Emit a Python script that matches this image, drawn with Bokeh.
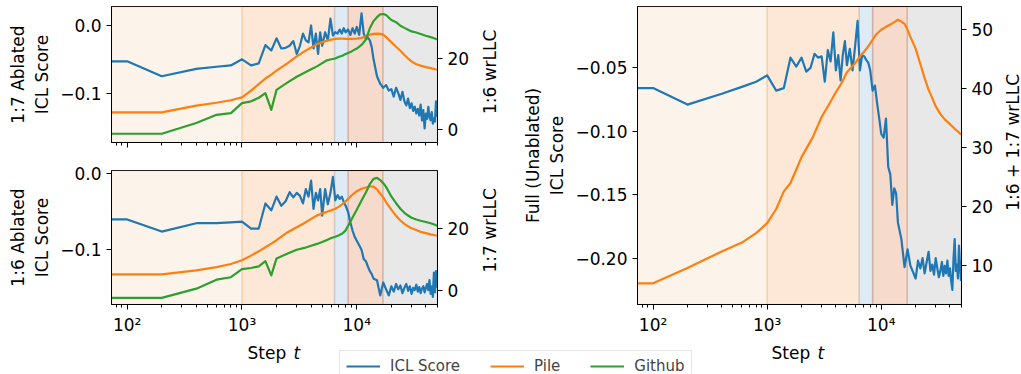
from bokeh.plotting import figure
from bokeh.models import (Range1d, LinearAxis, FixedTicker, CustomJSTickFormatter,
                          BoxAnnotation, Legend, LegendItem)
from bokeh.layouts import column, row
from bokeh.embed import file_html
from bokeh.resources import INLINE
from bokeh.core.properties import value

# ---------------- data ----------------
steps_icl = [70, 100, 200, 400, 600, 800,
             1000, 1200, 1400, 1600, 1800, 2000, 2200, 2400, 2600, 2800, 3000, 3200, 3400,
             3600, 3800, 4000, 4200, 4400, 4600, 4800, 5000,
             5300, 5600, 5900, 6200, 6500, 6800, 7100, 7400, 7700, 8000,
             8400, 8800, 9200, 9600, 10000,
             10500, 11000, 11500, 12000, 12500, 13000, 13500, 14000,
             15000, 16000, 17000, 18000, 19000, 20000, 21000, 22000, 23000, 24000,
             25000, 26000, 27000, 28000, 29000, 30000, 31000, 32000, 33000, 34000,
             35000, 36000, 37000, 38000, 39000, 40000, 41000, 42000, 43000, 44000,
             45000, 46000, 47000, 48000, 49000, 50000]

steps_llc = [70, 100, 200, 400, 600, 800, 1000, 1200, 1400, 1600, 1800, 2000,
             2500, 3000, 3500, 4000, 4500, 5000, 5500, 6000, 6500, 7000, 7500, 8000,
             9000, 10000, 11000, 12000, 13000, 14000, 15000, 16000, 17000, 18000,
             20000, 22000, 24000, 26000, 28000, 30000, 33000, 36000, 40000, 44000,
             48000, 50000]

# top-left: 1:7 ablated ICL score, 1:6 wrLLC
icl_17 = [-0.053, -0.053, -0.075, -0.064, -0.061, -0.059,
          -0.050, -0.059, -0.056, -0.029, -0.037, -0.019, -0.034, -0.033, -0.030, -0.023,
          -0.042, -0.030, -0.012, -0.022, -0.025, 0.000, -0.034, -0.012, -0.042, -0.010, -0.030,
          -0.010, -0.022, 0.010, -0.015, -0.010, -0.012, -0.006, -0.012, -0.004, -0.010,
          -0.006, -0.014, -0.004, -0.012, -0.002,
          -0.014, 0.018, -0.012, -0.020, -0.018, -0.022, -0.032, -0.050,
          -0.075, -0.086, -0.092, -0.088, -0.096, -0.094, -0.105, -0.092, -0.100, -0.110,
          -0.098, -0.112, -0.118, -0.108, -0.122, -0.115, -0.126, -0.120, -0.130, -0.123,
          -0.133, -0.117, -0.140, -0.125, -0.152, -0.130, -0.138, -0.120, -0.135, -0.140,
          -0.128, -0.145, -0.137, -0.142, -0.112, -0.135]
pile_16 = [4.9, 4.9, 4.9, 6.8, 7.6, 8.3, 9.1, 11.0, 12.8, 14.4, 15.5, 16.6,
           18.7, 20.6, 22.0, 23.1, 24.0, 24.6, 25.0, 25.3, 25.5, 25.6, 25.6, 25.5,
           25.5, 25.6, 25.8, 26.2, 26.7, 26.9, 27.0, 26.9, 26.7, 26.0,
           24.6, 23.3, 22.2, 21.0, 20.0, 19.2, 18.4, 18.0, 17.6, 17.3, 17.0, 16.9]
github_16 = [-1.1, -1.1, -1.1, 1.9, 4.2, 4.7, 7.5, 8.0, 9.0, 10.3, 5.6, 11.2,
             13.3, 14.9, 16.0, 17.0, 17.8, 18.7, 19.5, 19.8, 20.0, 20.5, 20.8, 21.3,
             22.0, 22.8, 23.8, 25.3, 28.5, 30.5, 31.6, 32.4, 32.5, 32.2,
             30.8, 30.2, 29.2, 28.6, 28.1, 27.6, 27.3, 26.9, 26.4, 26.0, 25.6, 25.3]

# bottom-left: 1:6 ablated ICL score, 1:7 wrLLC
icl_16 = [-0.060, -0.060, -0.076, -0.065, -0.065, -0.064,
          -0.063, -0.072, -0.072, -0.039, -0.048, -0.030, -0.042, -0.036, -0.024, -0.031,
          -0.025, -0.029, -0.039, -0.020, -0.030, -0.009, -0.046, -0.025, -0.035, -0.020, -0.055,
          -0.020, -0.040, -0.025, -0.004, -0.035, -0.028, -0.033, -0.030, -0.037, -0.042,
          -0.050, -0.064, -0.075, -0.083, -0.088,
          -0.094, -0.100, -0.112, -0.115, -0.122, -0.128, -0.132, -0.138,
          -0.140, -0.160, -0.143, -0.152, -0.160, -0.148, -0.155, -0.145, -0.152, -0.147,
          -0.157, -0.150, -0.145, -0.154, -0.148, -0.158, -0.150, -0.153, -0.146, -0.155,
          -0.149, -0.157, -0.151, -0.148, -0.156, -0.150, -0.145, -0.153, -0.140, -0.158,
          -0.148, -0.162, -0.130, -0.156, -0.128, -0.150]
pile_17 = [5.2, 5.2, 5.2, 6.5, 7.6, 8.6, 9.8, 11.3, 12.7, 14.0, 15.2, 16.3,
           18.9, 20.5, 21.9, 23.2, 24.3, 25.0, 25.5, 26.0, 26.5, 27.2, 28.0, 28.9,
           30.8, 32.2, 33.0, 33.4, 33.8, 33.7, 32.8, 31.4, 30.2, 28.6,
           26.2, 24.2, 22.7, 21.6, 20.8, 20.2, 19.6, 19.0, 18.6, 18.2, 17.9, 17.8]
github_17 = [-2.4, -2.4, -2.4, 0.6, 3.5, 4.3, 6.9, 7.3, 7.8, 9.5, 4.9, 10.4,
             12.0, 13.2, 13.8, 14.5, 15.1, 15.7, 16.4, 17.0, 17.4, 17.9, 18.5, 19.5,
             23.0, 26.2, 29.2, 31.8, 34.5, 36.2, 36.5, 35.8, 34.8, 33.6,
             30.5, 28.3, 26.5, 25.2, 24.3, 23.6, 23.0, 22.6, 22.2, 21.8, 21.3, 21.0]

# right: full (unablated) ICL score, 1:6 + 1:7 wrLLC (Pile)
icl_full = [-0.066, -0.066, -0.079, -0.0705, -0.065, -0.061,
            -0.056, -0.068, -0.066, -0.042, -0.049, -0.042, -0.053, -0.050, -0.039, -0.042,
            -0.041, -0.061, -0.036, -0.045, -0.022, -0.052, -0.040, -0.060, -0.040, -0.029, -0.048,
            -0.035, -0.052, -0.033, -0.013, -0.052, -0.040, -0.041, -0.044, -0.046, -0.052,
            -0.068, -0.064, -0.078, -0.090, -0.102,
            -0.105, -0.090, -0.128, -0.134, -0.158, -0.145, -0.149, -0.172,
            -0.185, -0.207, -0.193, -0.206, -0.211, -0.216, -0.202, -0.208, -0.200, -0.212,
            -0.203, -0.195, -0.210, -0.205, -0.213, -0.200, -0.208, -0.215, -0.210, -0.203,
            -0.214, -0.206, -0.212, -0.202, -0.214, -0.208, -0.218, -0.225, -0.200, -0.185,
            -0.210, -0.205, -0.216, -0.190, -0.205, -0.218]
pile_sum = [7.0, 7.0, 9.6, 12.4, 13.9, 15.5, 17.2, 19.6, 22.6, 24.0, 26.3, 28.4,
            31.7, 35.2, 37.4, 39.4, 41.0, 42.8, 43.7, 44.5, 45.5, 46.2, 46.9, 47.7,
            49.2, 50.0, 50.5, 50.9, 51.3, 51.7, 51.4, 51.0, 50.0, 48.8,
            46.8, 44.2, 41.8, 39.8, 38.4, 37.0, 35.7, 34.8, 34.0, 33.2, 32.6, 32.2]

phase_edges = [None, 1000, 6400, 8400, 16900, None]
phase_colors = ["#f0c396", "#f58c37", "#5a9bcd", "#d24600", "#8c8c8c"]

x_major = [100, 1000, 10000]
x_minor = [80, 90, 200, 300, 400, 500, 600, 700, 800, 900,
           2000, 3000, 4000, 5000, 6000, 7000, 8000, 9000, 20000, 30000, 40000, 50000]

legend_labels = ["ICL Score", "Pile", "Github"]

# ---------------- style ----------------
BLUE, ORANGE, GREEN = "#1f77b4", "#ff7f0e", "#2ca02c"
FONT = "DejaVu Sans"
TICK_FS = "17px"
LABEL_FS = "17px"
LW = 2.2
X_RANGE = (73, 50500)
FRAME_W = 326

SUP = CustomJSTickFormatter(code="""
const e = Math.round(Math.log10(tick));
const s = {2: "\u00b2", 3: "\u00b3", 4: "\u2074"};
return "10" + s[e];
""")


def num_fmt(dec):
    return CustomJSTickFormatter(code=f"""
return (tick < -1e-9 ? "\u2212" : "") + Math.abs(tick).toFixed({dec});
""")


def style_axis(ax):
    ax.axis_line_color = "black"
    ax.axis_line_width = 1
    ax.major_tick_line_color = "black"
    ax.major_tick_out = 5
    ax.major_tick_in = 0
    ax.minor_tick_line_color = "black"
    ax.minor_tick_out = 3
    ax.minor_tick_in = 0
    ax.major_label_text_font = FONT
    ax.major_label_text_font_size = TICK_FS
    ax.major_label_text_color = "black"
    ax.axis_label_text_font = FONT
    ax.axis_label_text_font_size = LABEL_FS
    ax.axis_label_text_font_style = "normal"
    ax.axis_label_text_color = "black"


def blank(width, height):
    s = figure(width=width, height=height, x_range=Range1d(0, width),
               y_range=Range1d(0, height), output_backend="svg", toolbar_location=None,
               min_border=0, x_axis_location=None, y_axis_location=None)
    s.xgrid.visible = False
    s.ygrid.visible = False
    s.outline_line_color = None
    return s


def side_title(width, height, mt, mb, text, cx):
    # strip to the right of a panel holding its right-axis title (reads bottom-to-top)
    s = blank(width, height)
    s.text(x=[cx], y=[mb + (height - mt - mb) / 2], text=[text], angle=90,
           angle_units="deg", text_align="center", text_baseline="middle",
           text_font=value(FONT), text_font_size=LABEL_FS, text_color="black")
    return s


def panel(width, height, ml, mr, mt, mb, ylim, y2lim, yticks, y2ticks, ydec,
          ylabel, show_xlabels):
    p = figure(width=width, height=height, x_axis_type="log",
               x_range=Range1d(*X_RANGE), y_range=Range1d(*ylim),
               output_backend="svg", toolbar_location=None,
               min_border_left=ml, min_border_right=mr,
               min_border_top=mt, min_border_bottom=mb)
    p.extra_y_ranges = {"r": Range1d(*y2lim)}
    ax2 = LinearAxis(y_range_name="r")
    p.add_layout(ax2, "right")
    p.xgrid.visible = False
    p.ygrid.visible = False
    p.outline_line_color = "black"
    p.outline_line_width = 1
    p.outline_line_alpha = 1
    p.background_fill_color = "white"

    for i, c in enumerate(phase_colors):
        kw = {}
        if phase_edges[i] is not None:
            kw["left"] = phase_edges[i]
        if phase_edges[i + 1] is not None:
            kw["right"] = phase_edges[i + 1]
        p.add_layout(BoxAnnotation(fill_color=c, fill_alpha=0.2, line_color=c,
                                   line_alpha=0.22, line_width=1.5,
                                   level="underlay", **kw))

    for ax in p.axis:
        style_axis(ax)
    xa = p.xaxis[0]
    xa.ticker = FixedTicker(ticks=x_major, minor_ticks=x_minor)
    xa.formatter = SUP
    if not show_xlabels:
        xa.major_label_text_font_size = "1px"
        xa.major_label_text_color = None
        xa.major_label_standoff = 0

    ya = p.yaxis[0]
    ya.ticker = FixedTicker(ticks=yticks)
    ya.formatter = num_fmt(ydec)
    ya.minor_tick_line_color = None
    ya.axis_label = ylabel

    ax2.ticker = FixedTicker(ticks=y2ticks)
    ax2.formatter = num_fmt(0)
    ax2.minor_tick_line_color = None
    return p


LEFT_W, RIGHT_W = 520, 501
LP_W = 478           # left panels' own canvas width
RP_W = 481           # right panel's own canvas width

fa = panel(LP_W, 154, 111, LP_W - 111 - FRAME_W, 6, 12, (-0.1728, 0.028), (-3.56, 34.6),
           [-0.1, 0.0], [0, 20], 1, "1:7 Ablated\nICL Score", False)
fa.line(steps_icl, icl_17, line_color=BLUE, line_width=LW, line_join="round")
fa.line(steps_llc, pile_16, line_color=ORANGE, line_width=LW, line_join="round", y_range_name="r")
fa.line(steps_llc, github_16, line_color=GREEN, line_width=LW, line_join="round", y_range_name="r")
sa = side_title(LEFT_W - LP_W, 154, 6, 12, "1:6 wrLLC", 11)

fb = panel(LP_W, 186, 111, LP_W - 111 - FRAME_W, 16, 36, (-0.172, 0.0044), (-4.54, 38.9),
           [-0.1, 0.0], [0, 20], 1, "1:6 Ablated\nICL Score", True)
fb.line(steps_icl, icl_16, line_color=BLUE, line_width=LW, line_join="round")
fb.line(steps_llc, pile_17, line_color=ORANGE, line_width=LW, line_join="round", y_range_name="r")
fb.line(steps_llc, github_17, line_color=GREEN, line_width=LW, line_join="round", y_range_name="r")
sb = side_title(LEFT_W - LP_W, 186, 16, 36, "1:7 wrLLC", 11)

fc = panel(RP_W, 340, 115, RP_W - 115 - FRAME_W, 6, 36, (-0.2365, -0.0017), (3.4, 53.95),
           [-0.20, -0.15, -0.10, -0.05], [10, 20, 30, 40, 50], 2,
           "Full (Unablated)\nICL Score", True)
fc.line(steps_icl, icl_full, line_color=BLUE, line_width=LW, line_join="round")
fc.line(steps_llc, pile_sum, line_color=ORANGE, line_width=LW, line_join="round", y_range_name="r")
sc = side_title(RIGHT_W - RP_W, 340, 6, 36, "1:6 + 1:7 wrLLC", 11)

# bottom strip: x-axis titles and shared legend
TOTAL_W, STRIP_H = LEFT_W + RIGHT_W, 34
fl = blank(TOTAL_W, STRIP_H)

centers = [111 + FRAME_W / 2, LEFT_W + 115 + FRAME_W / 2]
for cx in centers:
    fl.text(x=[cx - 27], y=[22], text=["Step"], text_font=value(FONT),
            text_font_size=LABEL_FS, text_baseline="middle", text_align="left",
            text_color="black")
    fl.text(x=[cx + 19], y=[22], text=["t"], text_font=value(FONT),
            text_font_size=LABEL_FS, text_font_style="italic",
            text_baseline="middle", text_align="left", text_color="black")

# legend proxies: lines placed outside the strip's visible range
items = []
for name, col in zip(legend_labels, [BLUE, ORANGE, GREEN]):
    r = fl.line(x=[-20, -10], y=[-20, -20], line_color=col, line_width=LW)
    items.append(LegendItem(label=name, renderers=[r]))
leg = Legend(items=items, orientation="horizontal", location=(339, -8), margin=0,
             label_text_font=FONT, label_text_font_size="15px", glyph_width=34,
             glyph_height=16, label_standoff=10, spacing=30, padding=6,
             border_line_color="#cccccc", border_line_width=1,
             background_fill_color="white", background_fill_alpha=1)
fl.add_layout(leg)

left_col = column(row(fa, sa), row(fb, sb))
layout = column(row(left_col, fc, sc), fl)
open("out.html", "w").write(file_html(layout, INLINE))
